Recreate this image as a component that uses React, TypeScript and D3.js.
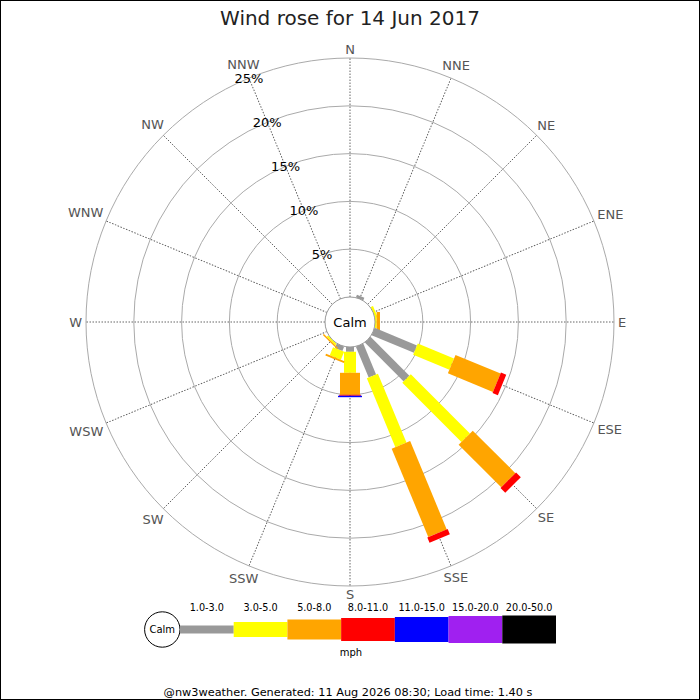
import React, { useEffect, useRef } from 'react';
import * as d3 from 'd3';

const directions = ["N", "NNE", "NE", "ENE", "E", "ESE", "SE", "SSE", "S", "SSW", "SW", "WSW", "W", "WNW", "NW", "NNW"];
const speedBins = ["1.0-3.0", "3.0-5.0", "5.0-8.0", "8.0-11.0", "11.0-15.0", "15.0-20.0", "20.0-50.0"];
const binColors = ["#999999", "#ffff00", "#ffa500", "#ff0000", "#0000ff", "#a020f0", "#000000"];
const ringTicks = [5, 10, 15, 20, 25];

// percent of the day per direction, one number per speed bin (same order as speedBins)
const freqByDir: number[][] = [
    [0],                          // N
    [0.3],                        // NNE
    [0],                          // NE
    [0, 0.25],                    // ENE
    [0, 0.17, 0.35],              // E
    [4.8, 4.1, 5.1, 0.6],         // ESE
    [5.75, 8.75, 6.3, 0.7],       // SE
    [3.5, 7.8, 10.0, 0.6],        // SSE
    [0.5, 2.2, 2.3, 0.1, 0.15],   // S
    [0.5, 0.9, 0.2],              // SSW
    [0, 0.2, 0.15],               // SW
    [0],                          // WSW
    [0],                          // W
    [0],                          // WNW
    [0],                          // NW
    [0],                          // NNW
];

const title = "Wind rose for 14 Jun 2017";
const unitLabel = "mph";
const footer = "@nw3weather. Generated: 11 Aug 2026 08:30; Load time: 1.40 s";

const width = 700;
const height = 700;
const cx = 350;
const cy = 322;
const calmRadius = 25;
const outerRadius = 264;

const roseWidths = [8, 12, 20, 22, 24, 26, 28];
const legendWidths = [8, 15, 20, 23, 25, 27, 28];

// rough DejaVu Sans advance widths for the compass letters
const charW: Record<string, number> = { N: 0.748, E: 0.632, S: 0.635, W: 0.989 };

const font = "'DejaVu Sans', Verdana, sans-serif";

const WindRose: React.FC = () => {
    const svgRef = useRef<SVGSVGElement | null>(null);

    useEffect(() => {
        document.body.style.margin = '0';
        const svg = d3.select(svgRef.current);
        svg.selectAll('*').remove();

        const r = d3.scaleLinear().domain([0, 25]).range([calmRadius, outerRadius]);
        const angle = d3.scaleLinear().domain([0, directions.length]).range([0, 360]);

        svg.append('rect')
            .attr('x', 0.5).attr('y', 0.5)
            .attr('width', width - 1).attr('height', height - 1)
            .attr('fill', 'white').attr('stroke', 'black');

        svg.append('text')
            .attr('x', width / 2).attr('y', 25)
            .attr('text-anchor', 'middle')
            .attr('font-family', font).attr('font-size', 20)
            .attr('fill', '#222')
            .text(title);

        const g = svg.append('g').attr('transform', `translate(${cx}, ${cy})`);

        g.selectAll('circle.ring')
            .data(ringTicks)
            .join('circle')
            .attr('class', 'ring')
            .attr('r', d => r(d))
            .attr('fill', 'none')
            .attr('stroke', '#aaa')
            .attr('stroke-width', 1);

        g.selectAll('line.spoke')
            .data(directions)
            .join('line')
            .attr('class', 'spoke')
            .attr('transform', (_, i) => `rotate(${angle(i) - 90})`)
            .attr('x1', r(0)).attr('x2', r(25))
            .attr('y1', 0).attr('y2', 0)
            .attr('stroke', '#555')
            .attr('stroke-width', 0.9)
            .attr('stroke-dasharray', '1.5,1.5');

        // compass labels, pushed out a bit more for wide text on the sides
        g.selectAll('text.dir')
            .data(directions)
            .join('text')
            .attr('class', 'dir')
            .each(function (d, i) {
                const a = angle(i) * Math.PI / 180;
                const halfW = d.split('').reduce((s, c) => s + charW[c], 0) * 13 / 2;
                const rr = 268 + Math.abs(Math.sin(a)) * halfW + Math.abs(Math.cos(a)) * 4.5;
                d3.select(this)
                    .attr('x', rr * Math.sin(a))
                    .attr('y', -rr * Math.cos(a));
            })
            .attr('text-anchor', 'middle')
            .attr('dominant-baseline', 'central')
            .attr('font-family', font).attr('font-size', 13)
            .attr('fill', '#555')
            .text(d => d);

        // stacked bars
        freqByDir.forEach((vals, i) => {
            const bar = g.append('g').attr('transform', `rotate(${angle(i) - 90})`);
            let cum = 0;
            vals.forEach((v, j) => {
                if (v <= 0) return;
                bar.append('rect')
                    .attr('x', r(cum))
                    .attr('y', -roseWidths[j] / 2)
                    .attr('width', r(cum + v) - r(cum))
                    .attr('height', roseWidths[j])
                    .attr('fill', binColors[j]);
                cum += v;
            });
        });

        const labelAngle = angle(15) * Math.PI / 180;
        g.selectAll('text.pct')
            .data(ringTicks)
            .join('text')
            .attr('class', 'pct')
            .attr('x', d => r(d) * Math.sin(labelAngle))
            .attr('y', d => -r(d) * Math.cos(labelAngle))
            .attr('text-anchor', 'middle')
            .attr('dominant-baseline', 'central')
            .attr('font-family', font).attr('font-size', 13)
            .attr('fill', 'black')
            .text(d => `${d}%`);

        g.append('circle')
            .attr('r', calmRadius)
            .attr('fill', 'white')
            .attr('stroke', '#999');

        g.append('text')
            .attr('text-anchor', 'middle')
            .attr('dominant-baseline', 'central')
            .attr('font-family', font).attr('font-size', 13)
            .text('Calm');

        // legend
        const legendY = 629.5;
        const lx = d3.scaleBand<string>().domain(speedBins).range([180, 556]);

        svg.append('circle')
            .attr('cx', 162.3).attr('cy', legendY).attr('r', 17.7)
            .attr('fill', 'white').attr('stroke', 'black');
        svg.append('text')
            .attr('x', 162.3).attr('y', legendY)
            .attr('text-anchor', 'middle')
            .attr('dominant-baseline', 'central')
            .attr('font-family', font).attr('font-size', 10)
            .text('Calm');

        svg.selectAll('rect.leg')
            .data(speedBins)
            .join('rect')
            .attr('class', 'leg')
            .attr('x', d => lx(d) as number)
            .attr('width', lx.bandwidth())
            .attr('y', (_, j) => legendY - legendWidths[j] / 2)
            .attr('height', (_, j) => legendWidths[j])
            .attr('fill', (_, j) => binColors[j]);

        svg.selectAll('text.leg')
            .data(speedBins)
            .join('text')
            .attr('class', 'leg')
            .attr('x', d => (lx(d) as number) + lx.bandwidth() / 2)
            .attr('y', 610.5)
            .attr('text-anchor', 'middle')
            .attr('font-family', font).attr('font-size', 9.7)
            .text(d => d);

        svg.append('text')
            .attr('x', 351).attr('y', 656)
            .attr('text-anchor', 'middle')
            .attr('font-family', font).attr('font-size', 10)
            .text(unitLabel);

        svg.append('text')
            .attr('x', 348).attr('y', 696)
            .attr('text-anchor', 'middle')
            .attr('font-family', font).attr('font-size', 11.3)
            .text(footer);
    }, []);

    return <svg ref={svgRef} viewBox={`0 0 ${width} ${height}`} width={width} height={height} style={{ display: 'block' }}></svg>;
};

export default function App() {
    return <WindRose />;
}
